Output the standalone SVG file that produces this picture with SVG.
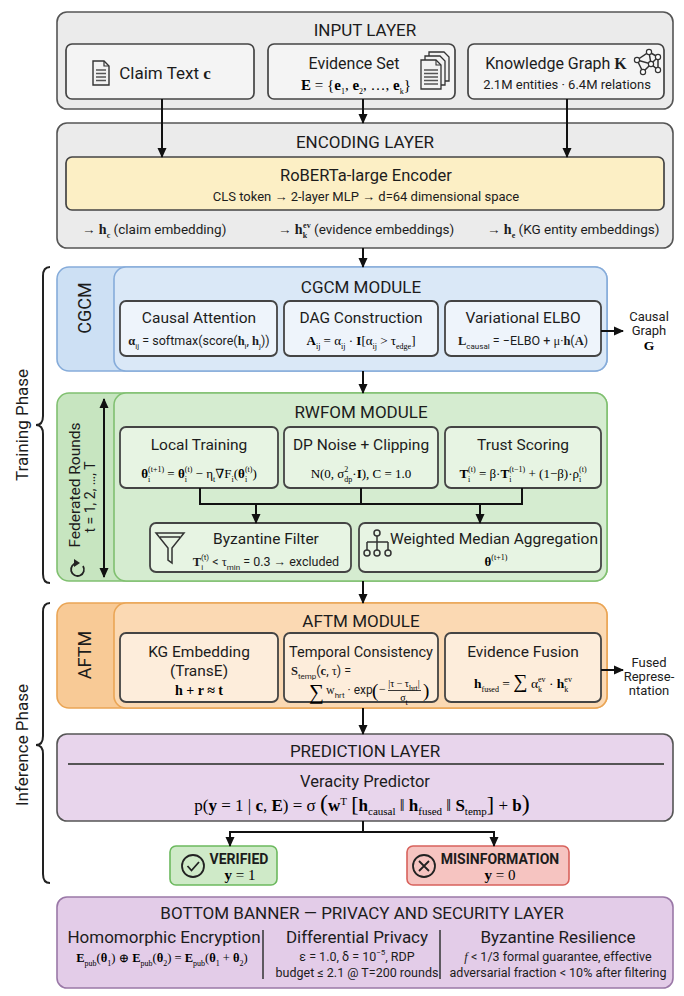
<svg xmlns="http://www.w3.org/2000/svg" width="684" height="996" viewBox="0 0 684 996">
<defs>
<marker id="ah" viewBox="0 0 10 10" refX="9" refY="5" markerWidth="10" markerHeight="10" markerUnits="userSpaceOnUse" orient="auto-start-reverse"><path d="M0,0.5 L10,5 L0,9.5 z" fill="#111"/></marker>
</defs>
<style>
.t{font-family:Roboto,"Liberation Sans",sans-serif;fill:#1c1c1c}
.m{font-family:"Liberation Serif","DejaVu Serif",serif}
.c{text-anchor:middle}
.b{font-weight:bold}
.h1{font-size:17px}
.h2{font-size:15.5px}
.s{font-size:13px}
.f{font-size:12.5px}
.sb{font-size:8px;baseline-shift:-3.5px}
.sp{font-size:8px;baseline-shift:6px}
.sbL{font-size:11px;baseline-shift:-4px}
.spL{font-size:11px;baseline-shift:6px}
.ln{stroke:#111;stroke-width:2;fill:none}
.arr{stroke:#111;stroke-width:2;fill:none;marker-end:url(#ah)}
.gray{fill:#ebebeb;stroke:#555;stroke-width:1.6}
.gbox{fill:#f4f4f4;stroke:#444;stroke-width:1.7}
.ybox{fill:#fcefc5;stroke:#444;stroke-width:1.7}
.bO{fill:#cde0f4;stroke:#86acda;stroke-width:1.6}
.bI{fill:#dae8f7;stroke:#86acda;stroke-width:1.6}
.bS{fill:#eef4fb;stroke:#444;stroke-width:1.8}
.gO{fill:#c7e5c0;stroke:#80c070;stroke-width:1.6}
.gI{fill:#d5ecd0;stroke:#80c070;stroke-width:1.6}
.gS{fill:#e7f4e3;stroke:#444;stroke-width:1.8}
.oO{fill:#f8ca96;stroke:#eaa555;stroke-width:1.6}
.oI{fill:#fbd9b3;stroke:#eaa555;stroke-width:1.6}
.oS{fill:#fdeddb;stroke:#444;stroke-width:1.8}
.pbox{fill:#e8d5ec;stroke:#555;stroke-width:1.6}
.pban{fill:#e3cce8;stroke:#9a78a7;stroke-width:1.6}
.ico{fill:none;stroke:#333;stroke-width:1.5}
.brace{fill:none;stroke:#222;stroke-width:2}
</style>

<!-- Phase braces and labels -->
<g id="phases">
<path class="brace" d="M50,267 Q43,267 43,276 L43,416 Q43,425 36,425 Q43,425 43,434 L43,574 Q43,583 50,583"/>
<text class="t c h1" transform="translate(28,425) rotate(-90)">Training Phase</text>
<path class="brace" d="M50,603 Q43,603 43,612 L43,736 Q43,745 36,745 Q43,745 43,754 L43,874 Q43,883 50,883"/>
<text class="t c h1" transform="translate(28,745) rotate(-90)">Inference Phase</text>
</g>

<!-- INPUT LAYER -->
<g id="input-layer">
<rect class="gray" x="57" y="12" width="616" height="97" rx="10"/>
<text class="t c h1" x="365" y="36">INPUT LAYER</text>
</g>
<g id="claim-text">
<rect class="gbox" x="66" y="44" width="188" height="55" rx="6"/>
<path d="M93,61 h11 l5,5 v19 h-16 z" fill="#f2f2f2" stroke="#333" stroke-width="1.4"/>
<path d="M104,61 v5 h5" fill="none" stroke="#333" stroke-width="1.2"/>
<path d="M96,70 h10 M96,73.5 h10 M96,77 h10 M96,80.5 h10" stroke="#555" stroke-width="1.4"/>
<text class="t c" font-size="17" x="165" y="79">Claim Text <tspan class="m b">c</tspan></text>
</g>
<g id="evidence-set">
<rect class="gbox" x="268" y="44" width="187" height="55" rx="6"/>
<path d="M429,52 h15 l5,5 v24 h-20 z" fill="#f2f2f2" stroke="#333" stroke-width="1.3"/>
<path d="M425,56 h15 l5,5 v24 h-20 z" fill="#f2f2f2" stroke="#333" stroke-width="1.3"/>
<path d="M421,60 h15 l5,5 v24 h-20 z" fill="#f2f2f2" stroke="#333" stroke-width="1.3"/>
<path d="M436,60 v5 h5" fill="none" stroke="#333" stroke-width="1.1"/>
<path d="M424,70 h14 M424,73.5 h14 M424,77 h14 M424,80.5 h14 M424,84 h14" stroke="#555" stroke-width="1.3"/>
<text class="t c" font-size="16" x="354" y="69">Evidence Set</text>
<text class="m c" font-size="15" x="356" y="90"><tspan class="b">E</tspan> = {<tspan class="b">e</tspan><tspan class="sb">1</tspan>, <tspan class="b">e</tspan><tspan class="sb">2</tspan>, …, <tspan class="b">e</tspan><tspan class="sb">k</tspan>}</text>
</g>
<g id="knowledge-graph">
<rect class="gbox" x="468" y="44" width="196" height="55" rx="6"/>
<path class="ico" stroke-width="1.2" d="M637,60 L649,52 L658,57 L651,64 L637,60 M649,52 L651,64 L658,70 M651,64 L643,72 L637,60 M658,57 L658,70 M643,72 L651,64"/>
<g fill="#fff" stroke="#333" stroke-width="1.2">
<circle cx="637" cy="60" r="2.6"/><circle cx="649" cy="52" r="2.6"/><circle cx="658" cy="57" r="2.6"/><circle cx="651" cy="64" r="2.6"/><circle cx="658" cy="70" r="2.6"/><circle cx="643" cy="72" r="2.6"/>
</g>
<text class="t c" font-size="16" x="556" y="69">Knowledge Graph <tspan class="m b">K</tspan></text>
<text class="t c s" x="567" y="89">2.1M entities · 6.4M relations</text>
</g>

<!-- ENCODING LAYER -->
<g id="encoding-layer">
<rect class="gray" x="57" y="123" width="616" height="125" rx="10"/>
<text class="t c h1" x="365" y="148">ENCODING LAYER</text>
<text class="t" font-size="13.5" x="82" y="234">→ <tspan class="m b" font-size="14">h</tspan><tspan class="sb m b">c</tspan> (claim embedding)</text>
<text class="t" font-size="13.5" x="278" y="234">→ <tspan class="m b" font-size="14">h</tspan><tspan class="sb m b">k</tspan><tspan class="sp m b" dx="-4">ev</tspan> (evidence embeddings)</text>
<text class="t" font-size="13.5" x="487" y="234">→ <tspan class="m b" font-size="14">h</tspan><tspan class="sb m b">e</tspan> (KG entity embeddings)</text>
</g>
<g id="roberta-encoder">
<rect class="ybox" x="66" y="157" width="598" height="53" rx="6"/>
<text class="t c" font-size="16.5" x="366" y="181">RoBERTa-large Encoder</text>
<text class="t c s" x="366" y="201">CLS token → 2-layer MLP → d=64 dimensional space</text>
</g>

<!-- CGCM MODULE -->
<g id="cgcm-module">
<rect class="bO" x="57" y="267" width="550" height="104" rx="12"/>
<rect class="bI" x="114" y="267" width="493" height="104" rx="12"/>
<text class="t c" font-size="18" transform="translate(91,308) rotate(-90)">CGCM</text>
<text class="t c h1" x="361" y="293">CGCM MODULE</text>
</g>
<g id="causal-attention">
<rect class="bS" x="120" y="301" width="157" height="55" rx="6"/>
<text class="t c h2" x="199" y="323">Causal Attention</text>
<text class="t c f" x="199" y="345"><tspan class="m b">α</tspan><tspan class="sb">ij</tspan> = softmax(score(<tspan class="m b">h</tspan><tspan class="sb">i</tspan>, <tspan class="m b">h</tspan><tspan class="sb">j</tspan>))</text>
</g>
<g id="dag-construction">
<rect class="bS" x="284" y="301" width="154" height="55" rx="6"/>
<text class="t c h2" x="361" y="323">DAG Construction</text>
<text class="m c" font-size="13" x="361" y="345"><tspan class="b">A</tspan><tspan class="sb">ij</tspan> = α<tspan class="sb">ij</tspan> · <tspan class="b">I</tspan>[α<tspan class="sb">ij</tspan> &gt; τ<tspan class="sb">edge</tspan>]</text>
</g>
<g id="variational-elbo">
<rect class="bS" x="445" y="301" width="156" height="55" rx="6"/>
<text class="t c h2" x="523" y="323">Variational ELBO</text>
<text class="t c f" x="523" y="345"><tspan class="m b">L</tspan><tspan class="sb">causal</tspan> = −ELBO + <tspan class="m">μ</tspan>·<tspan class="m b">h</tspan>(<tspan class="m b">A</tspan>)</text>
</g>
<g id="causal-graph-out">
<text class="t c s" x="649" y="321">Causal</text>
<text class="t c s" x="649" y="335">Graph</text>
<text class="m c b" font-size="13.5" x="649" y="350">G</text>
</g>

<!-- RWFOM MODULE -->
<g id="rwfom-module">
<rect class="gO" x="57" y="393" width="550" height="188" rx="12"/>
<rect class="gI" x="114" y="393" width="493" height="188" rx="12"/>
<text class="t c h2" transform="translate(80,485) rotate(-90)">Federated Rounds</text>
<text class="t c" font-size="14" transform="translate(95,497) rotate(-90)">t = 1, 2, …, T</text>
<path d="M83,566 A6.5,6.5 0 1 1 77,563" fill="none" stroke="#222" stroke-width="1.8"/>
<path d="M74,559 L80,563 L74,567 z" fill="#222"/>
<text class="t c h1" x="361" y="418">RWFOM MODULE</text>
</g>
<g id="local-training">
<rect class="gS" x="120" y="427" width="158" height="61" rx="6"/>
<text class="t c h2" x="199" y="450">Local Training</text>
<text class="m c" font-size="13" x="199" y="478"><tspan class="b">θ</tspan><tspan class="sb">i</tspan><tspan class="sp" dx="-2.2">(t+1)</tspan> = <tspan class="b">θ</tspan><tspan class="sb">i</tspan><tspan class="sp" dx="-2.2">(t)</tspan> − η<tspan class="sb">t</tspan>∇F<tspan class="sb">i</tspan>(<tspan class="b">θ</tspan><tspan class="sb">i</tspan><tspan class="sp" dx="-2.2">(t)</tspan>)</text>
</g>
<g id="dp-noise">
<rect class="gS" x="284" y="427" width="154" height="61" rx="6"/>
<text class="t c h2" x="361" y="450">DP Noise + Clipping</text>
<text class="m c" font-size="13" x="361" y="478">N(0, σ<tspan class="sb">dp</tspan><tspan class="sp" dx="-8">2</tspan><tspan dx="4">·</tspan><tspan class="b">I</tspan>), C = 1.0</text>
</g>
<g id="trust-scoring">
<rect class="gS" x="445" y="427" width="156" height="61" rx="6"/>
<text class="t c h2" x="523" y="450">Trust Scoring</text>
<text class="m c" font-size="13" x="523" y="478"><tspan class="b">T</tspan><tspan class="sb">i</tspan><tspan class="sp" dx="-2.2">(t)</tspan> = β·<tspan class="b">T</tspan><tspan class="sb">i</tspan><tspan class="sp" dx="-2.2">(t−1)</tspan> + (1−β)·ρ<tspan class="sb">i</tspan><tspan class="sp" dx="-2.2">(t)</tspan></text>
</g>
<g id="byzantine-filter">
<rect class="gS" x="150" y="523" width="201" height="49" rx="6"/>
<path class="ico" stroke-width="1.6" d="M156,533 L184,533 L172,548 L172,563 L168,560 L168,548 Z M160,537 L180,537"/>
<text class="t c h2" x="266" y="544">Byzantine Filter</text>
<text class="t c f" x="266" y="566"><tspan class="m b">T</tspan><tspan class="sb">i</tspan><tspan class="sp" dx="-2.2">(t)</tspan> &lt; <tspan class="m">τ</tspan><tspan class="sb">min</tspan> = 0.3 → excluded</text>
</g>
<g id="weighted-median">
<rect class="gS" x="359" y="523" width="242" height="49" rx="6"/>
<path class="ico" stroke-width="1.4" d="M377,536 V542 M367,542 H388 M367,542 V550 M377,542 V550 M388,542 V550"/>
<circle class="ico" stroke-width="1.4" cx="377" cy="533" r="3"/>
<circle class="ico" stroke-width="1.4" cx="367" cy="553" r="3"/>
<circle class="ico" stroke-width="1.4" cx="377" cy="553" r="3"/>
<circle class="ico" stroke-width="1.4" cx="388" cy="553" r="3"/>
<text class="t c h2" x="494" y="544">Weighted Median Aggregation</text>
<text class="m c b" font-size="13" x="496" y="566">θ<tspan class="sp" font-weight="normal">(t+1)</tspan></text>
</g>

<!-- AFTM MODULE -->
<g id="aftm-module">
<rect class="oO" x="57" y="603" width="550" height="105" rx="12"/>
<rect class="oI" x="114" y="603" width="493" height="105" rx="12"/>
<text class="t c" font-size="18" transform="translate(91,655) rotate(-90)">AFTM</text>
<text class="t c h1" x="361" y="627">AFTM MODULE</text>
</g>
<g id="kg-embedding">
<rect class="oS" x="120" y="633" width="158" height="69" rx="6"/>
<text class="t c h2" x="199" y="657">KG Embedding</text>
<text class="t c h2" x="199" y="676">(TransE)</text>
<text class="m c b" font-size="14" x="199" y="695">h + r ≈ t</text>
</g>
<g id="temporal-consistency">
<rect class="oS" x="284" y="633" width="154" height="69" rx="6"/>
<text class="t c h2" x="361" y="657" textLength="144" lengthAdjust="spacingAndGlyphs">Temporal Consistency</text>
<text class="t f" x="291" y="675"><tspan class="m b">S</tspan><tspan class="sb">temp</tspan>(<tspan class="m b">c</tspan>, <tspan class="m">τ</tspan>) =</text>
<text class="m" font-size="21" x="309" y="699">∑</text>
<text class="t" font-size="12" x="326" y="694"><tspan class="m">w</tspan><tspan class="sb">hrt</tspan> · exp</text>
<text class="m" font-size="19" x="372" y="697">(</text>
<text class="m" font-size="12" x="379" y="693">−</text>
<text class="m c" font-size="10" x="404" y="687">|τ − τ<tspan class="sb" font-size="7">hrt</tspan>|</text>
<path d="M388,690.5 H421" stroke="#222" stroke-width="0.9"/>
<text class="m c" font-size="10" x="404" y="701">σ<tspan class="sb" font-size="7">t</tspan></text>
<text class="m" font-size="19" x="423" y="697">)</text>
</g>
<g id="evidence-fusion">
<rect class="oS" x="445" y="633" width="156" height="69" rx="6"/>
<text class="t c h2" x="523" y="657">Evidence Fusion</text>
<text class="m c" font-size="13.5" x="523" y="688"><tspan class="b">h</tspan><tspan class="sb">fused</tspan> = <tspan font-size="20">∑</tspan> α<tspan class="sb">k</tspan><tspan class="sp" dx="-4">ev</tspan> · <tspan class="b">h</tspan><tspan class="sb">k</tspan><tspan class="sp" dx="-4">ev</tspan></text>
</g>
<g id="fused-representation-out">
<text class="t c s" x="649" y="667">Fused</text>
<text class="t c s" x="649" y="681">Represe-</text>
<text class="t c s" x="649" y="695">ntation</text>
</g>

<!-- PREDICTION LAYER -->
<g id="prediction-layer">
<rect class="pbox" x="57" y="734" width="616" height="87" rx="10"/>
<text class="t c h1" x="365" y="757">PREDICTION LAYER</text>
<path d="M68,764 H664" stroke="#555" stroke-width="2"/>
<text class="t c" font-size="16.5" x="365" y="787">Veracity Predictor</text>
<text class="m c" font-size="17" x="362" y="811">p(<tspan class="b">y</tspan> = 1 | <tspan class="b">c</tspan>, <tspan class="b">E</tspan>) = σ <tspan font-size="24">(</tspan><tspan class="b">w</tspan><tspan class="spL">T</tspan> <tspan font-size="22">[</tspan><tspan class="b">h</tspan><tspan class="sbL">causal</tspan> ‖ <tspan class="b">h</tspan><tspan class="sbL">fused</tspan> ‖ <tspan class="b">S</tspan><tspan class="sbL">temp</tspan><tspan font-size="22">]</tspan> + <tspan class="b">b</tspan><tspan font-size="24">)</tspan></text>
</g>
<g id="verified">
<rect x="170" y="846" width="107" height="39" rx="6" fill="#cfeac8" stroke="#6cb95e" stroke-width="1.6"/>
<circle cx="193" cy="866" r="11" fill="none" stroke="#222" stroke-width="1.8"/>
<path d="M187.5,866 L191.5,870.5 L199,862" fill="none" stroke="#222" stroke-width="1.8"/>
<text class="t c b" font-size="14" x="239" y="864">VERIFIED</text>
<text class="m c" font-size="15" x="240" y="880"><tspan class="b">y</tspan> = 1</text>
</g>
<g id="misinformation">
<rect x="407" y="846" width="162" height="39" rx="6" fill="#f6c4c1" stroke="#d8625c" stroke-width="1.6"/>
<circle cx="424" cy="866" r="11" fill="none" stroke="#222" stroke-width="1.8"/>
<path d="M419,861 L429,871 M429,861 L419,871" fill="none" stroke="#222" stroke-width="1.8"/>
<text class="t c b" font-size="14" x="500" y="864">MISINFORMATION</text>
<text class="m c" font-size="15" x="500" y="880"><tspan class="b">y</tspan> = 0</text>
</g>

<!-- BOTTOM BANNER -->
<g id="bottom-banner">
<rect class="pban" x="57" y="897" width="616" height="91" rx="10"/>
<text class="t c h1" x="362" y="919">BOTTOM BANNER — PRIVACY AND SECURITY LAYER</text>
<text class="t c h1" x="164" y="943">Homomorphic Encryption</text>
<text class="m c" font-size="12.5" x="162" y="962"><tspan class="b">E</tspan><tspan class="sb">pub</tspan>(<tspan class="b">θ</tspan><tspan class="sb">1</tspan>) ⊕ <tspan class="b">E</tspan><tspan class="sb">pub</tspan>(<tspan class="b">θ</tspan><tspan class="sb">2</tspan>) = <tspan class="b">E</tspan><tspan class="sb">pub</tspan>(<tspan class="b">θ</tspan><tspan class="sb">1</tspan> + <tspan class="b">θ</tspan><tspan class="sb">2</tspan>)</text>
<path d="M263,930 V979 M440,930 V979" stroke="#333" stroke-width="1.5"/>
<text class="t c h1" x="357" y="943">Differential Privacy</text>
<text class="t c" font-size="12.5" x="357" y="961">ε = 1.0, δ = 10<tspan class="sp">−5</tspan>, RDP</text>
<text class="t c" font-size="12.5" x="357" y="977">budget ≤ 2.1 @ T=200 rounds</text>
<text class="t c h1" x="558" y="943">Byzantine Resilience</text>
<text class="t c" font-size="12.5" x="558" y="961"><tspan class="m" font-style="italic">f</tspan> &lt; 1/3 formal guarantee, effective</text>
<text class="t c" font-size="12.5" x="558" y="977">adversarial fraction &lt; 10% after filtering</text>
</g>

<!-- CONNECTORS -->
<g id="connectors">
<path class="arr" d="M162,99 V157"/>
<path class="arr" d="M363,99 V123"/>
<path class="arr" d="M567,99 V157"/>
<path class="arr" d="M363,248 V267"/>
<path class="arr" d="M601,331 H623"/>
<path class="arr" d="M363,371 V393"/>
<path class="ln" d="M200,488 V504 H522 V488 M361,488 V504"/>
<path class="arr" d="M256,504 V523"/>
<path class="arr" d="M480,504 V523"/>
<path class="arr" d="M104,399 V577" style="marker-start:url(#ah)"/>
<path class="arr" d="M363,581 V603"/>
<path class="arr" d="M601,670 H623"/>
<path class="arr" d="M363,708 V734"/>
<path class="ln" d="M363,821 V832 M230,832 H494"/>
<path class="arr" d="M230,831 V846"/>
<path class="arr" d="M494,831 V846"/>
</g>
</svg>
